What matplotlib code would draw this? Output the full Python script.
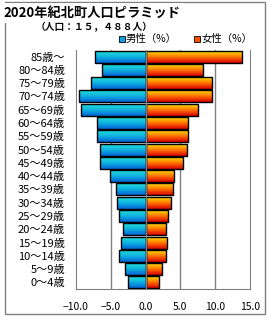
import numpy as np
import matplotlib.pyplot as plt
from matplotlib.colors import LinearSegmentedColormap
from matplotlib.patches import Rectangle

plt.rcParams['font.family'] = ['Noto Sans CJK JP', 'DejaVu Sans']

# 年齢階級（下から上へ）
edades = ['0〜4歳', '5〜9歳', '10〜14歳', '15〜19歳', '20〜24歳', '25〜29歳',
          '30〜34歳', '35〜39歳', '40〜44歳', '45〜49歳', '50〜54歳', '55〜59歳',
          '60〜64歳', '65〜69歳', '70〜74歳', '75〜79歳', '80〜84歳', '85歳〜']
hombres = [2.5, 3.0, 3.8, 3.5, 3.3, 3.8, 4.1, 4.3, 5.1, 6.6, 6.5, 7.0,
           7.0, 9.3, 9.5, 7.9, 6.3, 7.3]
mujeres = [1.9, 2.4, 2.9, 3.1, 2.9, 3.2, 3.7, 3.9, 4.1, 5.4, 5.9, 6.1,
           6.1, 7.5, 9.5, 9.5, 8.2, 13.8]
xticks = [-10, -5, 0, 5, 10, 15]

cmap_h = LinearSegmentedColormap.from_list('h', ['#0064d8', '#10b0e0', '#20e0d8'])
cmap_m = LinearSegmentedColormap.from_list('m', ['#d80000', '#ff7000', '#ffe400'])
grad = np.linspace(0, 1, 64).reshape(-1, 1)

fig = plt.figure(figsize=(2.7, 3.2), dpi=100)
ax = fig.add_axes([76 / 270, 1 - 289 / 320, 174 / 270, 239 / 320])

y = np.arange(len(edades))
barras_h = ax.barh(y, [-v for v in hombres], height=0.9, facecolor='none',
                   edgecolor='black', linewidth=1.0, zorder=3)
barras_m = ax.barh(y, mujeres, height=0.9, facecolor='none',
                   edgecolor='black', linewidth=1.0, zorder=3)

for barras, cmap in [(barras_h, cmap_h), (barras_m, cmap_m)]:
    for b in barras:
        x0, y0 = b.get_x(), b.get_y()
        w, h = b.get_width(), b.get_height()
        im = ax.imshow(grad, cmap=cmap, origin='lower', aspect='auto',
                       extent=[min(x0, x0 + w), max(x0, x0 + w), y0, y0 + h],
                       zorder=2, interpolation='bilinear')
        im.set_clip_path(b)

ax.set_xlim(-10, 15)
ax.set_ylim(-0.5, len(edades) - 0.5)
ax.set_aspect('auto')

for xv in [-5, 5, 10]:
    ax.axvline(xv, color='#808080', lw=1, zorder=1)
ax.axvline(0, color='#808080', lw=1, zorder=4)

ax.set_xticks(xticks)
ax.set_xticklabels([f'{v:.1f}'.replace('-', '−') for v in xticks], fontsize=7.5)
ax.set_yticks(y)
ax.set_yticklabels(edades, fontsize=8)
ax.tick_params(length=0, pad=8)
ax.tick_params(axis='x', pad=9)

ax.spines['top'].set_visible(False)
for s in ['left', 'right', 'bottom']:
    ax.spines[s].set_color('#808080')

# Marco exterior
fig.patches.append(Rectangle((5 / 270, 1 - 314 / 320), 260 / 270, 312 / 320,
                             transform=fig.transFigure, fill=False,
                             edgecolor='#808080', lw=1))

fig.text(3 / 270, 1 - 13 / 320, '2020年紀北町人口ピラミッド', fontsize=9.5,
         fontweight='bold', va='center', ha='left',
         bbox=dict(facecolor='white', edgecolor='none', pad=2))
fig.text(94 / 270, 1 - 27 / 320, '（人口：１５，４８８人）', fontsize=7,
         fontweight='bold', va='center', ha='center')

fig.patches.append(Rectangle((119 / 270, 1 - 42 / 320), 6 / 270, 6 / 320,
                             transform=fig.transFigure, facecolor='#10a0e0',
                             edgecolor='black', lw=0.6))
fig.text(126 / 270, 1 - 39 / 320, '男性（%）', fontsize=7.5, va='center', ha='left')
fig.patches.append(Rectangle((194 / 270, 1 - 42 / 320), 6 / 270, 6 / 320,
                             transform=fig.transFigure, facecolor='#ff5000',
                             edgecolor='black', lw=0.6))
fig.text(201 / 270, 1 - 39 / 320, '女性（%）', fontsize=7.5, va='center', ha='left')

fig.savefig('out.png', dpi=100)
